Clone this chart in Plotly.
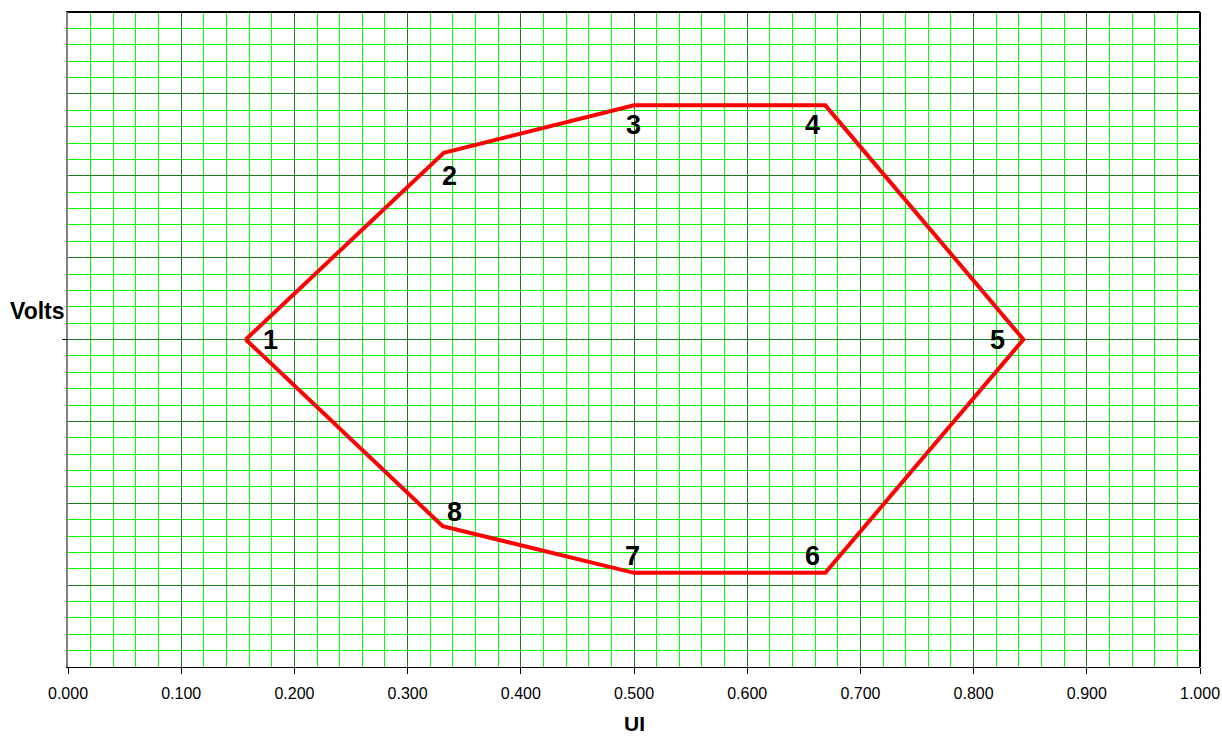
import plotly.graph_objects as go

# Eye-mask polygon vertices (UI on x, Volts on y), listed in order 1..8
point_labels = ["1", "2", "3", "4", "5", "6", "7", "8"]
ui_values = [0.157, 0.332, 0.500, 0.669, 0.844, 0.669, 0.500, 0.331]
volt_values = [0.000, 0.228, 0.286, 0.286, 0.000, -0.285, -0.285, -0.228]

x_tick_values = [0.0, 0.1, 0.2, 0.3, 0.4, 0.5, 0.6, 0.7, 0.8, 0.9, 1.0]
x_tick_text = ["0.000", "0.100", "0.200", "0.300", "0.400", "0.500",
               "0.600", "0.700", "0.800", "0.900", "1.000"]
y_major_values = [-0.4, -0.3, -0.2, -0.1, 0.0, 0.1, 0.2, 0.3, 0.4]

# label offsets (pixels) from each vertex
label_shift = {
    "1": (25, 0), "2": (6, -23), "3": (-1, -20), "4": (-13, -20),
    "5": (-26, 0), "6": (-13, 17), "7": (-2, 17), "8": (12, 14),
}

FONT = "Arial, Liberation Sans, sans-serif"
FINE = "#00FF00"
MAJOR = "#1E7A1E"
X_RANGE = [0, 1]
Y_RANGE = [-0.4, 0.4]

fig = go.Figure()

# empty trace so the overlay axes (major grid + tick labels) are drawn
fig.add_trace(go.Scatter(
    x=[None], y=[None], xaxis="x2", yaxis="y2",
    showlegend=False, hoverinfo="skip",
))

fig.add_trace(go.Scatter(
    x=ui_values + [ui_values[0]],
    y=volt_values + [volt_values[0]],
    xaxis="x2", yaxis="y2",
    mode="lines",
    line=dict(color="#FF0000", width=4),
    hoverinfo="skip",
    showlegend=False,
))

for lab, xv, yv in zip(point_labels, ui_values, volt_values):
    dx, dy = label_shift[lab]
    fig.add_annotation(
        x=xv, y=yv, xref="x2", yref="y2", text=f"<b>{lab}</b>", showarrow=False,
        xshift=dx, yshift=dy,
        font=dict(family=FONT, size=27, color="black"),
        xanchor="center", yanchor="middle",
    )

fig.add_annotation(
    xref="paper", yref="paper", x=0, y=0.5, text="<b>Volts</b>",
    showarrow=False, xanchor="right", yanchor="middle",
    xshift=-1, yshift=29,
    font=dict(family=FONT, size=23, color="black"),
)
fig.add_annotation(
    xref="paper", yref="paper", x=0.5, y=0, text="<b>UI</b>",
    showarrow=False, xanchor="center", yanchor="middle",
    yshift=-56, borderpad=0,
    font=dict(family=FONT, size=21, color="black"),
)

fig.update_layout(
    width=1222, height=736,
    margin=dict(l=68, r=22, t=12, b=69),
    paper_bgcolor="white", plot_bgcolor="white",
    font=dict(family=FONT, color="black"),
    # fine green grid
    xaxis=dict(
        range=X_RANGE, automargin=False,
        dtick=0.02, tick0=0, showticklabels=False, ticks="",
        showgrid=True, gridcolor=FINE, gridwidth=1,
        showline=True, linecolor="black", linewidth=1, mirror=True,
        zeroline=False,
    ),
    yaxis=dict(
        range=Y_RANGE, automargin=False,
        dtick=0.02, tick0=0, showticklabels=False, ticks="",
        showgrid=True, gridcolor=FINE, gridwidth=1,
        showline=True, linecolor="#808080", linewidth=2, mirror=False,
        zeroline=False,
    ),
    # major grid and labelled ticks
    xaxis2=dict(
        range=X_RANGE, overlaying="x", anchor="y", side="bottom", automargin=False,
        tickvals=x_tick_values, ticktext=x_tick_text,
        tickfont=dict(size=16),
        ticks="outside", ticklen=6, tickcolor="black",
        ticklabelstandoff=6,
        showgrid=True, gridcolor=MAJOR, gridwidth=1,
        showline=False, zeroline=False,
    ),
    yaxis2=dict(
        range=Y_RANGE, overlaying="y", anchor="x", side="left", automargin=False,
        tickvals=y_major_values, showticklabels=False, ticks="",
        showgrid=True, gridcolor=MAJOR, gridwidth=1,
        showline=False, zeroline=False,
    ),
    shapes=[
        # single outside tick on the volts axis at 0 V
        dict(type="line", xref="x domain", yref="y", x0=-0.005, x1=0, y0=0, y1=0,
             line=dict(color="black", width=1)),
        dict(type="line", xref="paper", yref="paper", x0=0, x1=1, y0=1, y1=1,
             line=dict(color="black", width=2)),
        dict(type="line", xref="paper", yref="paper", x0=1, x1=1, y0=0, y1=1,
             line=dict(color="black", width=2)),
    ],
)

fig.write_html("out.html")
